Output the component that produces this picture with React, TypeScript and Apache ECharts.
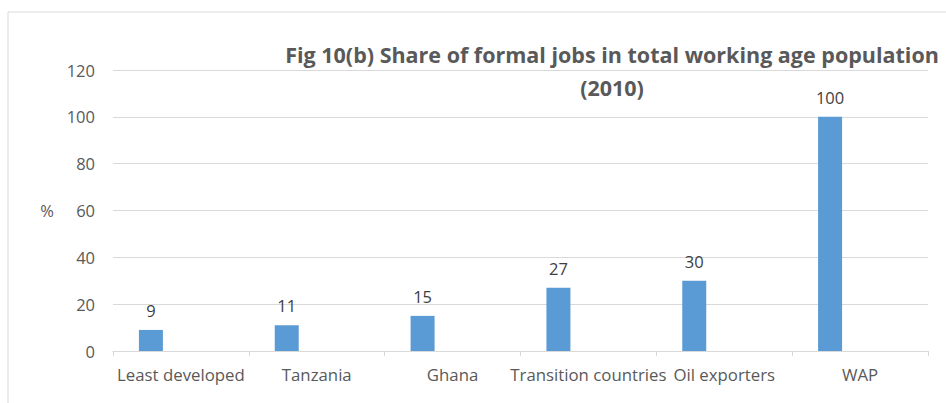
import React, { useEffect, useRef } from "react";
import * as echarts from "echarts";

const categories = ["Least developed", "Tanzania", "Ghana", "Transition countries", "Oil exporters", "WAP"];
const shareValues = [9, 11, 15, 27, 30, 100];
const emptyValues = [null, null, null, null, null, null];
const yTicks = { min: 0, max: 120, interval: 20 };
const titleLines = ["Fig 10(b) Share of formal jobs in total working age population", "(2010)"];
const yAxisName = "%";

const FONT = "'Open Sans', 'Noto Sans', sans-serif";

export default function App() {
  const ref = useRef<HTMLDivElement>(null);
  useEffect(() => {
    if (!ref.current) return;
    const chart = echarts.init(ref.current, null, { renderer: "svg" });
    chart.setOption({
      animation: false,
      backgroundColor: "#ffffff",
      textStyle: { fontFamily: FONT },
      grid: { left: 113, right: 18, top: 70, bottom: 52, containLabel: false },
      graphic: [
        {
          type: "rect",
          shape: { x: 8, y: 12, width: 960, height: 420 },
          style: { fill: "none", stroke: "#d9d9d9", lineWidth: 1 },
          silent: true,
          z: -1,
        },
        {
          type: "text",
          x: 612,
          y: 54,
          style: {
            text: titleLines[0],
            fontFamily: FONT,
            fontSize: 21.5,
            fontWeight: "bold",
            fill: "#595959",
            textAlign: "center",
            textVerticalAlign: "middle",
          },
        },
        {
          type: "text",
          x: 612,
          y: 87,
          style: {
            text: titleLines[1],
            fontFamily: FONT,
            fontSize: 21.5,
            fontWeight: "bold",
            fill: "#595959",
            textAlign: "center",
            textVerticalAlign: "middle",
          },
        },
      ],
      xAxis: {
        type: "category",
        data: categories,
        axisLine: { lineStyle: { color: "#d9d9d9" } },
        axisTick: { show: true, length: 5, lineStyle: { color: "#d9d9d9" } },
        axisLabel: { color: "#595959", fontSize: 16.8, margin: 15, interval: 0, fontFamily: FONT },
        splitLine: { show: false },
      },
      yAxis: {
        type: "value",
        min: yTicks.min,
        max: yTicks.max,
        interval: yTicks.interval,
        name: yAxisName,
        nameLocation: "middle",
        nameRotate: 0,
        nameGap: 59,
        nameTextStyle: { color: "#595959", fontSize: 16.5, fontFamily: FONT },
        axisLine: { show: false },
        axisTick: { show: false },
        axisLabel: { color: "#595959", fontSize: 16.5, margin: 18, fontFamily: FONT },
        splitLine: { lineStyle: { color: "#d9d9d9" } },
      },
      series: [
        {
          type: "bar",
          data: shareValues,
          barWidth: 24,
          barGap: "150%",
          itemStyle: { color: "#5b9bd5" },
          label: {
            show: true,
            position: "top",
            distance: 11,
            color: "#404040",
            fontSize: 16.5,
            fontFamily: FONT,
          },
        },
        {
          type: "bar",
          data: emptyValues,
          barWidth: 24,
          itemStyle: { color: "#ed7d31" },
        },
      ],
    });
    return () => chart.dispose();
  }, []);
  return (
    <div
      ref={ref}
      style={{ position: "fixed", left: 0, top: 0, width: 946, height: 403 }}
    />
  );
}
